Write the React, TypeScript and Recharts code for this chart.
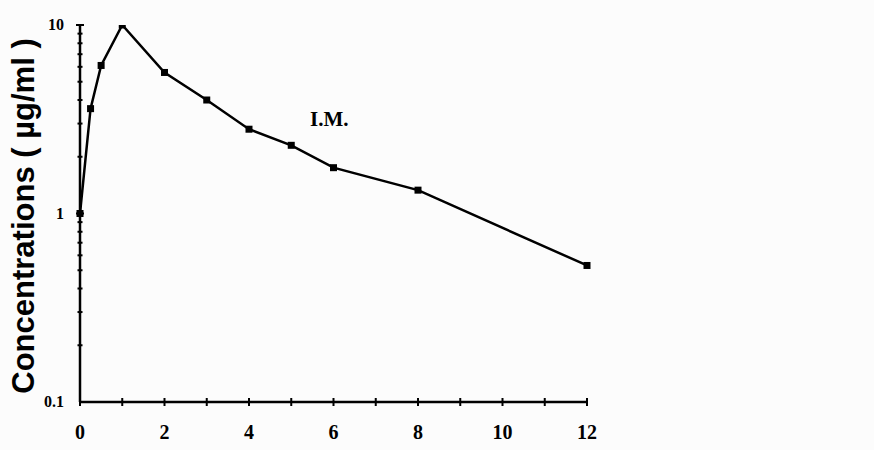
import React from 'react';
import { LineChart, Line, XAxis, YAxis } from 'recharts';

const times = [0, 0.25, 0.5, 1, 2, 3, 4, 5, 6, 8, 12];
const concentrations = [1, 3.6, 6.1, 10, 5.6, 4.0, 2.8, 2.3, 1.75, 1.33, 0.53];
const xTicks = [0, 1, 2, 3, 4, 5, 6, 7, 8, 9, 10, 11, 12];
const xLabelTicks = [0, 2, 4, 6, 8, 10, 12];
const yTicks = [0.1, 0.2, 0.3, 0.4, 0.5, 0.6, 0.7, 0.8, 0.9, 1, 2, 3, 4, 5, 6, 7, 8, 9, 10];
const yLabelTicks = [0.1, 1, 10];
const seriesName = 'I.M.';
const yAxisTitle = 'Concentrations ( µg/ml )';

const data = times.map((t, i) => ({ t, c: concentrations[i] }));

const XTick = (props: any) => {
  const { x, y, payload } = props;
  const v = payload.value;
  const labeled = xLabelTicks.includes(v);
  return (
    <g>
      <line x1={x} x2={x} y1={y - 4} y2={y + 4} stroke="#000" strokeWidth={2} />
      {labeled && (
        <text
          x={x}
          y={y + 37}
          textAnchor="middle"
          fontFamily="'Liberation Serif', serif"
          fontWeight="bold"
          fontSize={20}
          fill="#000"
        >
          {v}
        </text>
      )}
    </g>
  );
};

const YTick = (props: any) => {
  const { x, y, payload } = props;
  const v = payload.value;
  const labeled = yLabelTicks.includes(v);
  const half = labeled ? 4 : 2.5;
  return (
    <g>
      {v !== 0.1 && (
        <line x1={x - half} x2={x + half} y1={y} y2={y} stroke="#000" strokeWidth={2} />
      )}
      {labeled && (
        <text
          x={x - 16}
          y={y + 5}
          textAnchor="end"
          fontFamily="'Liberation Serif', serif"
          fontWeight="bold"
          fontSize={16}
          fill="#000"
        >
          {v}
        </text>
      )}
    </g>
  );
};

const SquareDot = (props: any) => {
  const { cx, cy } = props;
  if (cx == null || cy == null) return null;
  return <rect x={cx - 3.5} y={cy - 3.5} width={7} height={7} fill="#000" />;
};

const YTitle = () => (
  <text
    x={23}
    y={216}
    transform="rotate(-90, 23, 216)"
    textAnchor="middle"
    dominantBaseline="central"
    fontFamily="'Liberation Sans', Arial, sans-serif"
    fontWeight="bold"
    fontSize={31}
    fill="#000"
  >
    {yAxisTitle}
  </text>
);

export default function App() {
  return (
    <div style={{ position: 'absolute', left: 0, top: 0, width: 874, height: 450, background: '#fcfcfc' }}>
      <LineChart width={874} height={450} data={data} margin={{ top: 25, right: 287, bottom: 0, left: 0 }}>
        <XAxis
          dataKey="t"
          type="number"
          domain={[0, 12]}
          ticks={xTicks}
          interval={0}
          height={48}
          tickSize={0}
          tickMargin={0}
          tickLine={false}
          tick={<XTick />}
          axisLine={{ stroke: '#000', strokeWidth: 2.5 }}
        />
        <YAxis
          dataKey="c"
          scale="log"
          domain={[0.1, 10]}
          allowDataOverflow
          ticks={yTicks}
          interval={0}
          width={80}
          tickSize={0}
          tickMargin={0}
          tickLine={false}
          tick={<YTick />}
          axisLine={{ stroke: '#000', strokeWidth: 2.5 }}
          label={{ content: () => <YTitle /> }}
        />
        <Line
          dataKey="c"
          type="linear"
          stroke="#000"
          strokeWidth={2.5}
          dot={<SquareDot />}
          activeDot={false}
          isAnimationActive={false}
        />
      </LineChart>
      <div
        style={{
          position: 'absolute',
          left: 310,
          top: 107,
          fontFamily: "'Liberation Serif', serif",
          fontWeight: 'bold',
          fontSize: 21,
          color: '#000',
          lineHeight: '24px',
        }}
      >
        {seriesName}
      </div>
    </div>
  );
}
